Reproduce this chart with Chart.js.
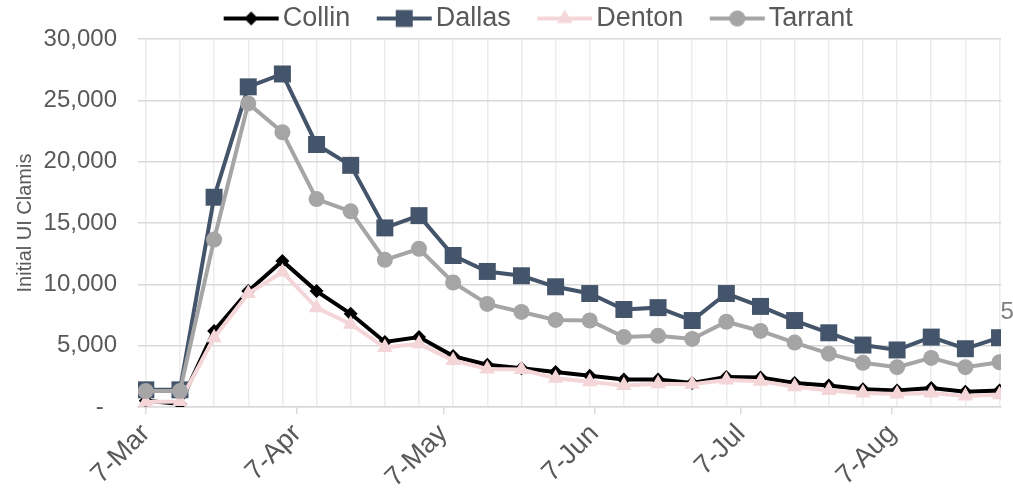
<!DOCTYPE html>
<html>
<head>
<meta charset="utf-8">
<script src="https://cdn.jsdelivr.net/npm/chart.js@4.4.0/dist/chart.umd.min.js"></script>
<style>
  html, body { margin: 0; padding: 0; background: #fff; }
</style>
</head>
<body>
<canvas id="chart" width="1013" height="498"></canvas>
<script>
// Semanas (fin de semana) y solicitudes iniciales por condado
const weekEnding = [
  '2020-03-07', '2020-03-14', '2020-03-21', '2020-03-28', '2020-04-04', '2020-04-11',
  '2020-04-18', '2020-04-25', '2020-05-02', '2020-05-09', '2020-05-16', '2020-05-23',
  '2020-05-30', '2020-06-06', '2020-06-13', '2020-06-20', '2020-06-27', '2020-07-04',
  '2020-07-11', '2020-07-18', '2020-07-25', '2020-08-01', '2020-08-08', '2020-08-15',
  '2020-08-22', '2020-08-29'
];
const collin  = [500, 250, 6200, 9450, 11900, 9450, 7600, 5300, 5700, 4150, 3450, 3150, 2850,
                 2550, 2250, 2250, 1950, 2450, 2400, 1950, 1750, 1450, 1350, 1550, 1250, 1350];
const dallas  = [1400, 1400, 17100, 26100, 27150, 21400, 19700, 14600, 15600, 12350, 11050, 10700, 9800,
                 9250, 7950, 8100, 7050, 9250, 8200, 7050, 6050, 5050, 4650, 5700, 4750, 5650];
const denton  = [400, 450, 5650, 9250, 11000, 8100, 6750, 4850, 5150, 3800, 3100, 3050, 2350,
                 2050, 1750, 1900, 1850, 2200, 2100, 1650, 1350, 1150, 1050, 1150, 900, 1000];
const tarrant = [1300, 1300, 13650, 24750, 22400, 16950, 15950, 12000, 12900, 10150, 8400, 7750, 7100,
                 7050, 5700, 5800, 5550, 6950, 6200, 5250, 4350, 3600, 3250, 4000, 3250, 3650];

// Etiquetas del eje X (fechas con etiqueta) y del eje Y
const monthTickDates = ['2020-03-07', '2020-04-07', '2020-05-07', '2020-06-07', '2020-07-07', '2020-08-07'];
const monthTickLabels = ['7-Mar', '7-Apr', '7-May', '7-Jun', '7-Jul', '7-Aug'];
const yTicks = [0, 5000, 10000, 15000, 20000, 25000, 30000];

const DAY = 86400000;
const start = Date.parse(weekEnding[0]);
const toDay = d => Math.round((Date.parse(d) - start) / DAY);
const weekDays = weekEnding.map(toDay);
const monthDays = monthTickDates.map(toDay);
const weekSet = new Set(weekDays);
const monthLabel = {};
monthDays.forEach((d, i) => { monthLabel[d] = monthTickLabels[i]; });

const GREY_TEXT = '#595959';
Chart.defaults.font.family = '"Liberation Sans", Arial, sans-serif';

// Icono de leyenda: línea con el marcador en el centro
const LEG_FONT = 27, LEG_PAD = 5;
const BOX_W = 67, ICON_W = 100, ICON_H = 30, LINE_LEN = 55;
function legendIcon(color, style, radius) {
  const c = document.createElement('canvas');
  c.width = ICON_W; c.height = ICON_H;
  const g = c.getContext('2d');
  const lineEnd = ICON_W / 2 + BOX_W / 2 + LEG_FONT / 2 - 4;
  const lineStart = lineEnd - LINE_LEN;
  g.strokeStyle = color;
  g.fillStyle = color;
  g.lineWidth = 4;
  g.beginPath();
  g.moveTo(lineStart, ICON_H / 2);
  g.lineTo(lineEnd, ICON_H / 2);
  g.stroke();
  Chart.helpers.drawPoint(g, { pointStyle: style, radius: radius, borderWidth: 0 }, (lineStart + lineEnd) / 2, ICON_H / 2);
  return c;
}

const serie = (label, data, color, style, radius, order) => ({
  label, order,
  data: data.map((v, i) => ({ x: weekDays[i], y: v })),
  borderColor: color,
  backgroundColor: color,
  borderWidth: 4,
  pointStyle: style,
  pointRadius: radius,
  pointHoverRadius: radius,
  pointBorderWidth: 0,
  tension: 0
});

// Desplaza la leyenda para centrarla como en el original
const legendShift = {
  id: 'legendShift',
  afterLayout(chart) {
    chart.legend.left += 26;
    chart.legend.right += 26;
  }
};

// Etiqueta del último punto de Dallas (queda cortada en el borde)
const lastLabel = {
  id: 'lastLabel',
  afterDatasetsDraw(chart) {
    const meta = chart.getDatasetMeta(1);
    const pt = meta.data[meta.data.length - 1];
    const ctx = chart.ctx;
    ctx.save();
    ctx.font = '24px "Liberation Sans", Arial, sans-serif';
    ctx.fillStyle = '#7f7f7f';
    ctx.textAlign = 'left';
    ctx.textBaseline = 'middle';
    ctx.fillText(dallas[dallas.length - 1].toLocaleString('en-US'), pt.x + 1, pt.y - 25);
    ctx.restore();
  }
};

new Chart(document.getElementById('chart'), {
  type: 'line',
  data: {
    datasets: [
      serie('Collin', collin, '#000000', 'rectRot', 7, 4),
      serie('Dallas', dallas, '#44546a', 'rect', 12, 3),
      serie('Denton', denton, '#f5d6d8', 'triangle', 9, 2),
      serie('Tarrant', tarrant, '#a5a5a5', 'circle', 8, 1)
    ]
  },
  options: {
    responsive: false,
    animation: false,
    layout: { padding: { right: 10 } },
    plugins: {
      tooltip: { enabled: false },
      legend: {
        position: 'top',
        maxHeight: 39,
        labels: {
          usePointStyle: true,
          pointStyleWidth: BOX_W,
          padding: LEG_PAD,
          color: GREY_TEXT,
          font: { size: LEG_FONT },
          generateLabels: chart => chart.data.datasets.map((ds, i) => ({
            text: ds.label,
            pointStyle: legendIcon(ds.borderColor, ds.pointStyle, ds.pointRadius),
            fontColor: GREY_TEXT,
            hidden: false,
            datasetIndex: i,
            lineWidth: 0,
            strokeStyle: 'rgba(0,0,0,0)',
            fillStyle: 'rgba(0,0,0,0)'
          }))
        }
      }
    },
    scales: {
      x: {
        type: 'linear',
        min: -1.6,
        max: 175.3,
        afterBuildTicks: s => {
          const vals = Array.from(new Set([...weekDays, ...monthDays])).sort((a, b) => a - b);
          s.ticks = vals.map(v => ({ value: v }));
        },
        afterFit: s => {
          s.height = 91;
          s.paddingLeft = 0;
          s.paddingRight = 0;
        },
        ticks: {
          autoSkip: false,
          minRotation: 45,
          maxRotation: 45,
          padding: 4,
          color: GREY_TEXT,
          font: { size: 27 },
          callback: v => monthLabel[v] || ''
        },
        grid: {
          color: c => (c.tick && weekSet.has(c.tick.value)) ? '#ececec' : 'rgba(0,0,0,0)',
          tickColor: c => (c.tick && monthLabel[c.tick.value]) ? '#d9d9d9' : 'rgba(0,0,0,0)',
          tickLength: 7,
          lineWidth: 1.5
        },
        border: { color: '#d9d9d9', width: 1.5 }
      },
      y: {
        min: 0,
        max: 30000,
        afterBuildTicks: s => { s.ticks = yTicks.map(v => ({ value: v })); },
        afterFit: s => { s.width = 138; },
        ticks: {
          padding: 21,
          color: GREY_TEXT,
          font: { size: 24 },
          callback: v => v === 0 ? '-  ' : v.toLocaleString('en-US')
        },
        grid: { color: '#d9d9d9', lineWidth: 1.5, drawTicks: false },
        border: { display: false },
        title: {
          display: true,
          text: 'Initial UI Clamis',
          color: GREY_TEXT,
          font: { size: 20 },
          padding: { top: 13, bottom: 7 }
        }
      }
    }
  },
  plugins: [legendShift, lastLabel]
});
</script>
</body>
</html>
